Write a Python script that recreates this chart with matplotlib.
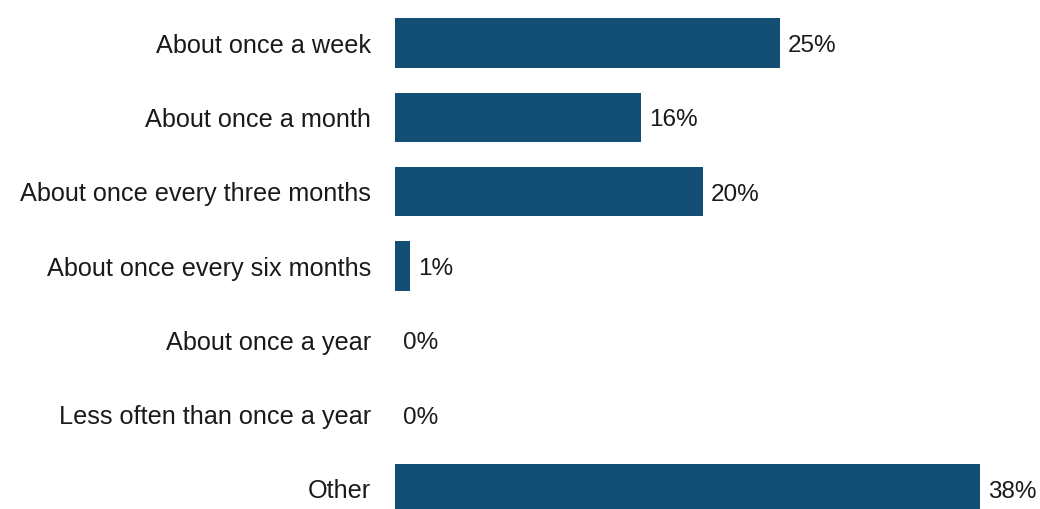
import matplotlib
matplotlib.use("Agg")
import matplotlib.pyplot as plt

categories = ["About once a week", "About once a month", "About once every three months",
              "About once every six months", "About once a year",
              "Less often than once a year", "Other"]
values = [25, 16, 20, 1, 0, 0, 38]
value_labels = ["25%", "16%", "20%", "1%", "0%", "0%", "38%"]

plt.rcParams['font.family'] = ['Liberation Sans', 'DejaVu Sans']

fig = plt.figure(figsize=(10.4, 5.09), dpi=100)
ax = fig.add_axes([395 / 1040, 0, 616 / 1040, 1])

pos = list(range(len(categories)))
ax.barh(pos, values, height=0.66, color="#134f75")
ax.set_xlim(0, 40)
ax.set_ylim(6 + 20 / 74.33, -43 / 74.33)

# value labels just right of each bar
for p, v, lab in zip(pos, values, value_labels):
    ax.annotate(lab, (v, p), xytext=(8, -3), textcoords="offset pixels",
                va="center", ha="left", fontsize=17.5, color="#1a1a1a")

ax.set_yticks(pos)
ax.set_yticklabels(categories, fontsize=18.2, color="#1a1a1a")
ax.tick_params(axis="y", length=0, pad=24 * 72 / 100)
ax.set_xticks([])
for s in ax.spines.values():
    s.set_visible(False)

fig.savefig("out.png", dpi=100)
